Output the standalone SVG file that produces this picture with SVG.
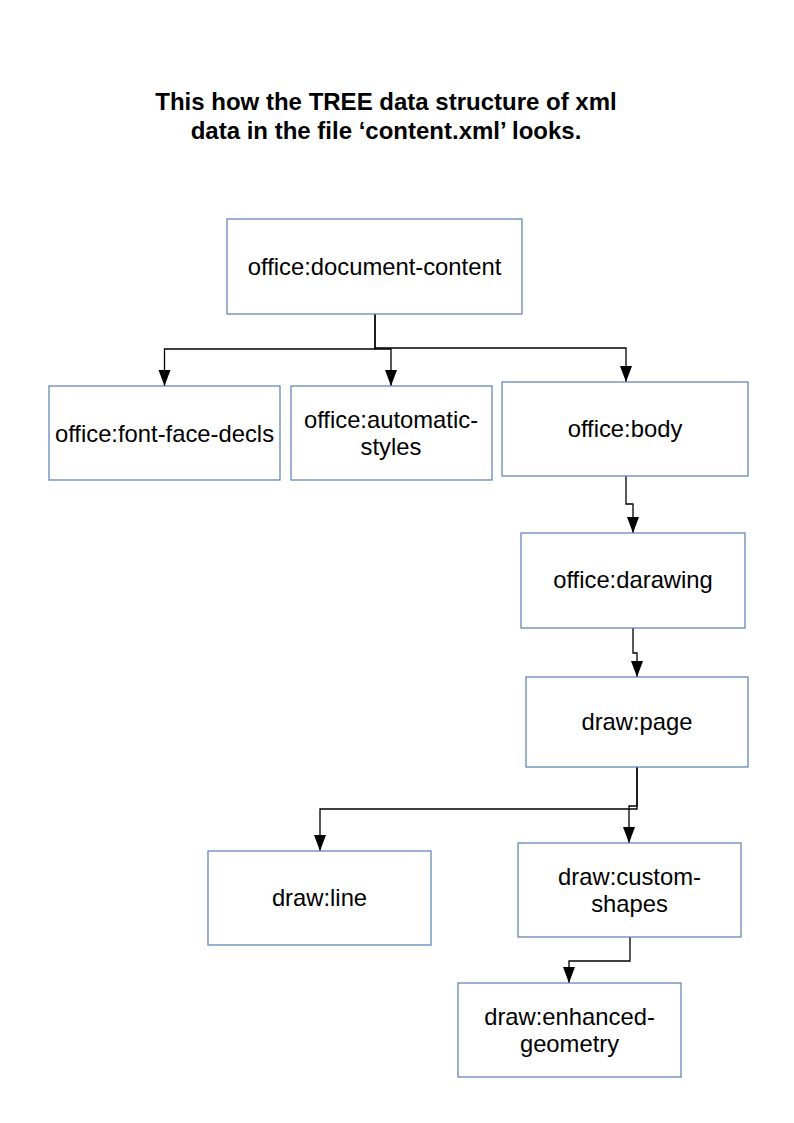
<svg xmlns="http://www.w3.org/2000/svg" width="794" height="1123" viewBox="0 0 794 1123">
<style>
.box{fill:#fff;stroke:#5a7db5;stroke-width:1.2}
.t{font-family:"Liberation Sans",Arial,sans-serif;font-size:23.8px;fill:#000;text-anchor:middle}
.title{font-family:"Liberation Sans",Arial,sans-serif;font-size:24px;font-weight:bold;fill:#000;text-anchor:middle}
.c{fill:none;stroke:#000;stroke-width:1.3}
</style>
<rect width="794" height="1123" fill="#fff"/>
<g id="title">
<text class="title" x="386" y="110">This how the TREE data structure of xml</text>
<text class="title" x="386" y="139">data in the file ‘content.xml’ looks.</text>
</g>
<g id="connectors">
<path class="c" d="M375,314 V349 H164.5 V386"/>
<path class="c" d="M375,349 H391 V386"/>
<path class="c" d="M375,314 V348 H626 V382"/>
<path class="c" d="M626,476 V504 H633 V533"/>
<path class="c" d="M633,628 V653 H637 V677"/>
<path class="c" d="M637,767 V809 H320 V851"/>
<path class="c" d="M637,767 V806 H629 V843"/>
<path class="c" d="M630,937 V961 H569 V983"/>
<g fill="#000">
<path d="M158.5,370 L170.5,370 L164.5,386 Z"/>
<path d="M385,370 L397,370 L391,386 Z"/>
<path d="M620,366 L632,366 L626,382 Z"/>
<path d="M627,517 L639,517 L633,533 Z"/>
<path d="M631,661 L643,661 L637,677 Z"/>
<path d="M314,835 L326,835 L320,851 Z"/>
<path d="M623,827 L635,827 L629,843 Z"/>
<path d="M563,967 L575,967 L569,983 Z"/>
</g>
</g>
<g id="n-root"><rect class="box" x="227" y="219" width="295" height="95"/><text class="t" x="374.5" y="275">office:document-content</text></g>
<g id="n-fontface"><rect class="box" x="49" y="386" width="231" height="94"/><text class="t" x="164.5" y="442">office:font-face-decls</text></g>
<g id="n-auto"><rect class="box" x="291" y="386" width="201" height="94"/><text class="t" x="391" y="428">office:automatic-</text><text class="t" x="391" y="455">styles</text></g>
<g id="n-body"><rect class="box" x="502" y="382" width="246" height="94"/><text class="t" x="625" y="437">office:body</text></g>
<g id="n-drawing"><rect class="box" x="521" y="533" width="224" height="95"/><text class="t" x="633" y="588">office:darawing</text></g>
<g id="n-page"><rect class="box" x="526" y="677" width="222" height="90"/><text class="t" x="637" y="730">draw:page</text></g>
<g id="n-line"><rect class="box" x="208" y="851" width="223" height="94"/><text class="t" x="319.5" y="906">draw:line</text></g>
<g id="n-custom"><rect class="box" x="518" y="843" width="223" height="94"/><text class="t" x="629.5" y="885">draw:custom-</text><text class="t" x="629.5" y="912">shapes</text></g>
<g id="n-enh"><rect class="box" x="458" y="983" width="223" height="94"/><text class="t" x="569.5" y="1025">draw:enhanced-</text><text class="t" x="569.5" y="1052">geometry</text></g>
</svg>
